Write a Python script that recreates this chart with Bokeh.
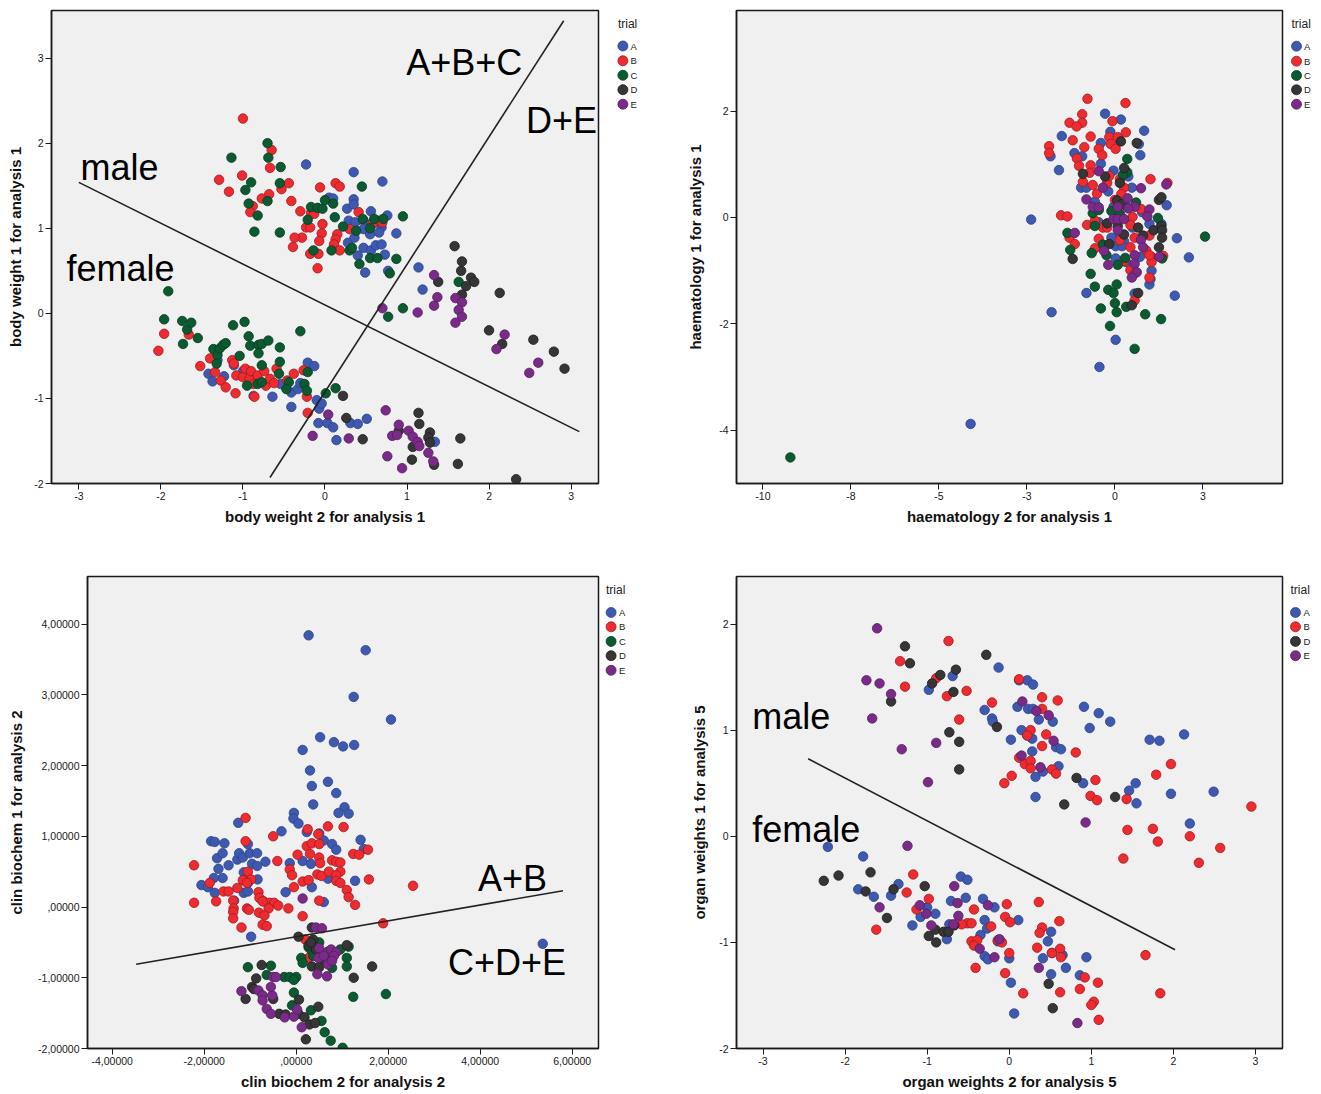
from bokeh.plotting import figure
from bokeh.models import FixedTicker, Range1d
from bokeh.layouts import row, column
from bokeh.embed import file_html
from bokeh.resources import INLINE
from bokeh.core.properties import value

FONT = "Liberation Sans"
TRIALS = ["A", "B", "C", "D", "E"]
FILL = {"A": "#3e59ad", "B": "#ee2b30", "C": "#0b5a31", "D": "#363636", "E": "#7a2b88"}
EDGE = {"A": "#2c4391", "B": "#a11c21", "C": "#063e20", "D": "#1d1d1d", "E": "#561d61"}

# ---------------- panel 1: body weight (analysis 1) ----------------
P1_A = [(-0.23,1.75),(0.35,1.66),(0.70,1.55),(0.05,1.36),(0.10,1.35),(0.35,1.34),(0.27,1.23),(0.35,1.28),(0.56,1.20),(0.76,1.15),(0.29,1.09),(0.37,1.07),(0.47,1.09),(0.56,1.05),(0.64,1.09),(0.69,1.01),(0.47,0.99),(0.55,0.93),(0.66,0.95),(0.87,0.94),(0.28,0.83),(0.36,0.89),(0.47,0.77),(0.56,0.74),(0.62,0.80),(0.69,0.81),(0.73,0.69),(0.40,0.68),(0.49,0.48),(0.77,0.50),(1.14,0.54),(1.19,0.28),(1.34,-1.51),(-1.42,-0.71),(-1.37,-0.80),(-1.31,-0.55),(-1.23,-0.74),(-1.11,-0.61),(-1.00,-0.68),(-0.87,-0.77),(-0.87,-0.97),(-0.64,-0.98),(-0.54,-0.83),(-0.41,-0.93),(-0.41,-1.10),(-0.33,-0.89),(-0.30,-0.82),(-0.21,-0.58),(-0.13,-0.62),(-0.10,-1.02),(-0.07,-1.12),(-0.04,-1.06),(-0.08,-1.29),(0.03,-1.29),(0.10,-1.34),(0.14,-1.49),(0.31,-1.29),(0.40,-1.30),(0.51,-1.24)]
P1_B = [(-1.00,2.29),(-0.65,1.92),(-0.67,1.71),(-1.29,1.57),(-1.01,1.62),(-1.17,1.43),(-0.68,1.40),(-0.77,1.35),(-0.53,1.46),(-0.44,1.53),(-0.41,1.32),(-0.88,1.26),(-0.91,1.19),(-0.30,1.20),(-0.17,1.18),(-0.13,1.17),(-0.06,1.48),(0.13,1.53),(0.18,1.49),(0.41,1.19),(-0.23,1.01),(-0.18,1.01),(-0.03,1.05),(-0.04,0.94),(-0.28,0.89),(-0.37,0.89),(-0.07,0.85),(0.15,0.93),(0.13,0.87),(0.11,0.81),(-0.39,0.78),(-0.18,0.70),(-0.08,0.70),(0.18,0.74),(-0.09,0.53),(0.30,0.99),(0.58,1.05),(0.70,1.07),(-2.03,-0.44),(-1.96,-0.24),(-1.66,-0.25),(-1.52,-0.62),(-1.40,-0.53),(-1.34,-0.69),(-1.27,-0.79),(-1.21,-0.87),(-1.13,-0.55),(-1.11,-0.59),(-1.09,-0.94),(-1.08,-0.73),(-1.00,-0.75),(-0.97,-0.65),(-0.92,-0.77),(-0.90,-0.68),(-0.87,-0.83),(-0.86,-0.98),(-0.82,-0.73),(-0.74,-0.68),(-0.72,-0.85),(-0.67,-0.77),(-0.62,-0.82),(-0.59,-0.65),(-0.46,-0.79),(-0.38,-0.71),(-0.26,-0.67),(-0.22,-0.98),(-0.21,-1.17)]
P1_C = [(-0.70,2.00),(-1.14,1.83),(-0.69,1.83),(-0.54,1.72),(-0.90,1.54),(-0.55,1.53),(-0.97,1.45),(-0.93,1.29),(-0.70,1.32),(-0.82,1.15),(-0.86,0.96),(-0.55,0.95),(-0.17,1.25),(-0.09,1.24),(-0.03,1.23),(0.00,1.33),(0.10,1.29),(-0.21,1.10),(0.12,1.13),(0.22,1.02),(0.38,0.97),(0.45,1.49),(0.46,1.11),(0.55,1.00),(0.60,1.11),(0.71,1.11),(0.95,1.14),(-0.14,0.74),(0.08,0.74),(0.30,0.74),(0.33,0.77),(0.42,0.58),(0.55,0.65),(0.64,0.65),(0.87,0.64),(0.79,0.47),(1.63,0.37),(0.95,0.06),(0.77,-0.04),(-1.91,0.26),(-1.96,-0.07),(-1.74,-0.09),(-1.68,-0.19),(-1.63,-0.11),(-1.73,-0.36),(-1.55,-0.29),(-1.36,-0.42),(-1.31,-0.49),(-1.28,-0.41),(-1.24,-0.37),(-1.21,-0.35),(-1.32,-0.59),(-1.12,-0.14),(-0.98,-0.10),(-0.93,-0.27),(-0.91,-0.38),(-0.81,-0.37),(-0.77,-0.36),(-0.81,-0.47),(-0.69,-0.32),(-0.55,-0.40),(-1.04,-0.50),(-0.77,-0.61),(-0.55,-0.57),(-0.56,-0.71),(-0.95,-0.85),(-0.82,-0.83),(-0.77,-0.81),(-0.44,-0.81),(-0.47,-0.89),(-0.30,-0.21),(-0.25,-0.83),(-0.21,-0.69),(-0.22,-0.91),(0.01,-0.94),(0.13,-0.88)]
P1_D = [(1.58,0.79),(1.67,0.61),(1.66,0.50),(1.38,0.37),(1.78,0.42),(1.82,0.37),(1.72,0.32),(1.67,0.22),(2.13,0.24),(2.00,-0.20),(2.16,-0.36),(2.54,-0.31),(2.79,-0.45),(2.92,-0.65),(0.22,-0.97),(0.26,-1.23),(0.46,-1.48),(1.14,-1.17),(1.15,-1.30),(1.07,-1.57),(1.28,-1.40),(1.26,-1.46),(1.28,-1.52),(1.65,-1.47),(1.06,-1.72),(1.33,-1.78),(1.62,-1.77),(2.33,-1.95),(0.90,-1.38)]
P1_E = [(1.33,0.45),(1.37,0.19),(1.33,0.09),(1.13,0.01),(0.70,0.06),(1.59,0.18),(1.67,0.13),(1.63,0.04),(1.67,-0.04),(1.59,-0.11),(2.19,-0.25),(2.09,-0.42),(2.60,-0.58),(2.49,-0.70),(0.04,-1.19),(-0.15,-1.44),(0.29,-1.47),(0.74,-1.14),(0.90,-1.31),(0.82,-1.44),(0.88,-1.43),(1.02,-1.38),(1.07,-1.45),(1.13,-1.51),(1.15,-1.56),(1.26,-1.64),(1.32,-1.74),(0.76,-1.68),(0.94,-1.82)]
P1_LINES_X = [[-3.0, 3.1], [-0.67, 2.91]]
P1_LINES_Y = [[1.54, -1.39], [-1.93, 3.44]]
P1_TEXT = ["A+B+C", "D+E", "male", "female"]
P1_TEXT_X = [0.99, 2.45, -2.98, -3.15]
P1_TEXT_Y = [2.95, 2.27, 1.71, 0.53]

# ---------------- panel 2: haematology (analysis 1) ----------------
P2_A = [(-4.10,-3.88),(-2.38,-0.04),(-1.80,-1.78),(-0.44,-2.81),(0.02,-2.30),(2.10,-0.75),(1.76,-0.39),(1.70,-1.47),(1.47,0.23),(-0.28,1.95),(0.17,1.84),(0.83,1.63),(-0.13,1.61),(0.14,1.45),(0.68,1.38),(0.72,1.17),(-1.51,1.53),(-1.15,1.21),(-1.83,1.15),(-0.93,1.15),(-0.40,1.40),(-0.40,1.01),(-1.59,0.89),(-0.04,0.88),(0.38,0.77),(-0.96,0.56),(-0.81,0.56),(-0.19,0.49),(0.48,0.56),(-0.57,0.30),(-0.04,0.20),(0.32,0.22),(0.77,0.10),(0.98,-0.12),(1.32,-0.12),(-0.46,-0.09),(0.14,-0.32),(-0.10,-0.38),(0.26,-0.45),(0.50,-0.19),(0.02,-0.54),(0.20,-0.54),(0.02,-0.77),(0.32,-0.84),(0.71,-0.74),(1.04,-1.00),(0.98,-1.26),(-0.81,-1.42),(0.56,-1.43),(1.01,-1.16)]
P2_B = [(-0.78,2.23),(0.30,2.15),(-0.93,1.94),(-1.29,1.78),(-0.93,1.78),(-1.09,1.71),(-0.07,1.81),(0.31,1.60),(-1.20,1.45),(-0.69,1.52),(-0.16,1.51),(0.08,1.51),(-0.12,1.38),(0.02,1.29),(-1.87,1.34),(-1.87,1.21),(-0.87,1.32),(-0.46,1.29),(-0.36,1.17),(-1.08,1.11),(-1.02,0.97),(-0.69,0.98),(-0.72,0.84),(-0.91,0.67),(-0.63,0.61),(-0.51,0.45),(-0.22,0.65),(-0.16,0.78),(0.14,0.72),(0.26,0.56),(0.18,0.44),(0.00,0.33),(1.01,0.72),(1.49,0.65),(0.74,0.16),(-1.53,0.04),(-1.35,0.02),(-0.79,-0.14),(-0.57,-0.06),(-0.34,-0.19),(-0.22,-0.19),(0.50,0.01),(0.44,-0.14),(-1.29,-0.38),(-1.14,-0.50),(-0.46,-0.40),(-0.57,-0.58),(0.14,-0.43),(0.44,-0.56),(0.56,-0.38),(0.89,-0.62),(1.04,-0.74),(1.04,-0.84),(1.37,-0.72),(0.98,-0.34),(0.44,-0.99),(0.56,-1.05),(0.98,-1.13),(0.56,-1.56),(0.26,-0.82),(0.98,-0.71)]
P2_C = [(-9.22,-4.51),(0.56,-2.47),(2.56,-0.36),(0.35,1.10),(0.35,0.85),(0.23,0.80),(0.60,0.28),(1.22,-0.01),(-0.63,0.08),(-0.46,0.14),(-0.10,0.12),(0.14,0.07),(-0.57,-0.16),(-1.35,-0.29),(-1.27,-0.61),(-0.66,-0.67),(-0.34,-0.51),(-0.24,-0.71),(0.08,-0.89),(0.29,-0.76),(1.34,-0.77),(-0.69,-1.06),(-0.57,-1.30),(0.05,-1.26),(-0.19,-1.36),(-0.04,-1.42),(0.00,-1.61),(-0.40,-1.71),(0.05,-1.78),(0.32,-1.68),(0.86,-1.82),(1.31,-1.91),(-0.14,-2.04)]
P2_D = [(0.17,1.43),(0.62,1.40),(-0.91,0.82),(-0.28,0.77),(0.26,0.93),(0.14,0.65),(1.25,0.33),(1.32,0.38),(0.06,0.32),(0.20,0.25),(-0.22,-0.11),(0.08,-0.16),(0.66,-0.19),(1.10,-0.24),(1.32,-0.16),(1.34,-0.24),(1.34,-0.38),(1.25,-0.56),(0.26,-0.32),(-0.16,-0.50),(-1.20,-0.78),(0.80,-0.34),(0.66,-1.42),(0.48,-1.65)]
P2_E = [(-0.46,0.87),(-0.34,0.56),(0.74,0.55),(-0.81,0.34),(-0.63,0.20),(-0.46,0.19),(0.36,0.36),(0.56,0.20),(0.38,0.17),(0.08,0.20),(0.98,0.15),(-0.04,-0.03),(0.08,-0.03),(0.26,-0.03),(0.92,0.02),(-1.14,-0.29),(-0.31,-0.63),(-0.19,-0.89),(0.08,-0.24),(0.74,-0.42),(0.80,-0.56),(0.56,-0.71),(0.56,-0.87),(0.62,-1.03),(0.48,-1.13),(1.26,-0.74),(1.46,0.62)]

# ---------------- panel 3: clin biochem (analysis 2) ----------------
P3_A = [(0.27,3.84),(1.51,3.63),(1.25,2.97),(2.06,2.65),(0.52,2.40),(0.82,2.33),(1.02,2.27),(1.26,2.29),(0.14,2.22),(0.30,1.93),(0.34,1.71),(0.69,1.77),(0.87,1.61),(0.37,1.45),(1.05,1.41),(1.14,1.32),(0.92,1.33),(-0.05,1.33),(-0.06,1.25),(0.05,1.18),(-1.26,1.19),(-0.32,1.07),(0.23,1.06),(0.50,1.04),(0.60,0.94),(0.78,0.89),(0.87,0.81),(1.40,0.95),(1.47,0.82),(-1.85,0.93),(-1.77,0.92),(-1.56,0.90),(-1.72,0.69),(-1.60,0.76),(-1.69,0.54),(-1.47,0.59),(-1.28,0.67),(-1.24,0.76),(-1.16,0.70),(-1.05,0.89),(-1.01,0.76),(-0.85,0.76),(-0.96,0.61),(-0.85,0.58),(-0.67,0.64),(-0.14,0.62),(0.14,0.65),(0.32,0.61),(-1.14,0.49),(-1.10,0.39),(-1.05,0.34),(-0.84,0.39),(-1.60,0.41),(-1.79,0.41),(-2.06,0.31),(-1.92,0.28),(-1.77,0.20),(-1.14,0.20),(-1.05,0.22),(-0.23,0.21),(0.34,0.28),(0.60,0.07),(0.69,0.40),(1.28,0.37),(-0.98,-0.42),(-1.35,0.09),(5.36,-0.52)]
P3_B = [(-1.10,1.26),(-0.50,1.00),(0.25,1.10),(0.48,1.03),(0.69,1.14),(1.03,1.13),(-1.10,0.93),(0.23,0.86),(0.34,0.90),(0.50,0.89),(0.30,0.75),(0.50,0.70),(0.52,0.62),(0.03,0.74),(0.78,0.66),(0.87,0.64),(0.96,0.63),(1.24,0.75),(1.37,0.74),(1.56,0.81),(-0.41,0.65),(-2.22,0.59),(-1.88,0.34),(-1.05,0.50),(-0.98,0.39),(-1.16,0.38),(-1.07,0.34),(-1.28,0.27),(-0.14,0.53),(-0.09,0.45),(0.46,0.46),(0.55,0.44),(0.71,0.50),(0.96,0.50),(0.87,0.45),(0.87,0.37),(0.96,0.34),(0.14,0.36),(0.27,0.38),(1.58,0.39),(-0.05,0.28),(-1.58,0.22),(-1.47,0.22),(-0.82,0.21),(-0.80,0.13),(-0.71,0.08),(-0.58,0.06),(-0.48,0.06),(-0.39,0.02),(-0.60,-0.02),(-0.73,0.08),(-1.37,0.09),(-1.74,0.08),(-2.22,0.06),(-1.36,-0.02),(-1.37,-0.07),(-1.37,-0.16),(-1.07,-0.02),(-1.03,-0.04),(-0.81,-0.08),(-0.69,-0.12),(-0.17,-0.02),(0.14,-0.13),(0.50,0.09),(1.10,0.24),(1.14,0.14),(1.28,0.03),(-1.19,-0.29),(-0.73,-0.25),(-0.64,-0.27),(2.54,0.30),(1.89,-0.23),(0.20,-0.46),(0.27,-0.72)]
P3_C = [(-1.05,-0.85),(-0.55,-0.83),(-0.64,-0.96),(-0.26,-0.99),(-0.14,-0.99),(0.00,-0.99),(-0.05,-1.03),(-0.05,-1.21),(-0.09,-1.39),(0.32,-1.46),(0.55,-1.61),(0.62,-1.77),(0.75,-1.89),(1.01,-1.99),(1.24,-1.27),(1.95,-1.23),(0.11,-0.72),(0.14,-0.79),(0.27,-0.57),(0.32,-0.60),(0.78,-0.86),(0.96,-0.60),(1.10,-0.72),(1.10,-0.84),(1.14,-0.56),(0.50,-0.50),(0.37,-0.69),(0.69,-0.73),(0.05,-1.51)]
P3_D = [(0.34,-0.29),(0.05,-0.42),(0.37,-0.46),(0.27,-0.54),(0.43,-0.60),(1.10,-0.54),(1.65,-0.84),(1.25,-1.00),(0.34,-0.84),(0.50,-0.85),(-0.75,-0.82),(-0.87,-1.01),(-0.96,-1.13),(-0.92,-1.16),(-1.10,-1.30),(-0.50,-1.30),(0.06,-1.31),(-0.37,-1.51),(-0.23,-1.52),(0.18,-1.56),(0.29,-1.66),(0.41,-1.64),(0.48,-1.41),(0.21,-1.87),(0.32,-0.50),(0.60,-0.74)]
P3_E = [(0.14,0.12),(0.43,-0.29),(0.56,-0.30),(0.50,-0.58),(0.48,-0.72),(0.69,-0.63),(0.76,-0.60),(0.87,-0.64),(0.82,-0.69),(0.60,-0.69),(0.69,-0.81),(0.78,-0.76),(0.46,-0.95),(0.67,-0.98),(-0.50,-0.99),(-0.44,-0.99),(-1.19,-1.19),(-0.82,-1.18),(-0.73,-1.25),(-0.52,-1.25),(-0.55,-1.13),(-0.73,-1.32),(-0.64,-1.44),(-0.55,-1.51),(-0.25,-1.56),(-0.05,-1.55),(0.12,-1.70),(0.02,-1.45)]
P3_LINES_X = [[-3.48, 5.80]]
P3_LINES_Y = [[-0.81, 0.23]]
P3_TEXT = ["A+B", "C+D+E"]
P3_TEXT_X = [3.95, 3.30]
P3_TEXT_Y = [0.41, -0.78]

# ---------------- panel 4: organ weights (analysis 5) ----------------
P4_A = [(-0.13,1.59),(-0.69,1.51),(-0.98,1.38),(0.12,1.47),(0.22,1.47),(0.29,1.43),(-0.30,1.19),(-0.21,1.11),(-0.20,1.08),(0.10,1.22),(0.23,1.20),(0.29,1.20),(0.36,1.10),(0.53,1.08),(0.15,1.00),(0.22,0.95),(0.28,0.92),(0.02,0.91),(0.28,0.80),(0.57,0.84),(0.63,0.82),(0.60,0.66),(0.32,0.56),(0.32,0.37),(0.41,0.61),(0.90,0.50),(0.91,1.22),(1.09,1.16),(1.23,1.08),(0.98,1.02),(1.71,0.91),(1.83,0.90),(2.13,0.96),(1.46,0.43),(1.54,0.50),(1.55,0.31),(1.97,0.40),(2.49,0.42),(2.20,0.12),(-2.21,-0.10),(-1.78,-0.19),(-1.84,-0.50),(-1.65,-0.57),(-1.44,-0.56),(-1.35,-0.45),(-1.18,-0.84),(-1.08,-0.76),(-1.00,-0.67),(-0.90,-0.73),(-0.71,-0.61),(-0.59,-0.38),(-0.51,-0.41),(-0.53,-0.58),(-0.73,-0.83),(-0.76,-0.97),(-0.32,-0.59),(-0.18,-0.67),(-0.30,-0.79),(-0.35,-0.93),(-0.27,-0.87),(0.11,-0.79),(-0.14,-0.99),(-0.30,-1.13),(-0.26,-1.16),(0.00,-1.15),(0.02,-1.38),(0.06,-1.67),(0.51,-0.90),(0.47,-0.99),(0.41,-1.15),(0.52,-1.10),(0.65,-1.12),(0.69,-1.24),(0.51,-1.30),(0.94,-1.14),(0.86,-1.31)]
P4_B = [(-0.74,1.84),(-1.33,1.65),(-0.89,1.49),(-1.27,1.41),(-0.52,1.37),(-0.76,1.32),(-0.61,1.10),(-0.21,1.26),(0.12,1.48),(0.40,1.31),(0.59,1.28),(0.40,1.20),(0.26,1.00),(0.22,0.95),(0.45,0.96),(0.40,0.85),(0.81,0.79),(0.12,0.74),(0.19,0.68),(0.26,0.71),(0.26,0.64),(0.52,0.63),(0.57,0.59),(0.03,0.57),(-0.06,0.50),(1.97,0.68),(1.79,0.58),(1.05,0.53),(0.99,0.38),(1.07,0.34),(1.43,0.35),(2.95,0.28),(1.44,0.06),(1.75,0.07),(1.81,-0.05),(2.20,0.00),(1.39,-0.21),(2.31,-0.25),(2.57,-0.11),(-1.17,-0.36),(-1.25,-0.53),(-0.98,-0.59),(-1.13,-0.69),(-1.62,-0.88),(-0.43,-0.69),(-0.51,-0.82),(-0.58,-0.83),(-0.46,-0.82),(-0.46,-0.99),(-0.39,-0.98),(-0.43,-1.03),(-0.22,-0.85),(-0.14,-0.98),(-0.09,-1.00),(-0.03,-0.64),(-0.05,-0.76),(0.01,-0.81),(0.00,-1.10),(-0.05,-1.29),(-0.41,-1.24),(0.36,-0.62),(0.40,-0.86),(0.37,-0.91),(0.34,-1.05),(0.52,-1.10),(0.62,-1.06),(0.63,-1.14),(0.61,-0.80),(0.92,-1.33),(0.86,-1.44),(1.08,-1.38),(0.62,-1.47),(1.03,-1.56),(1.00,-1.59),(1.09,-1.73),(0.17,-1.48),(1.66,-1.12),(1.84,-1.48)]
P4_D = [(-1.27,1.79),(-1.21,1.63),(-0.28,1.71),(-0.94,1.44),(-0.84,1.52),(-0.65,1.57),(-0.68,1.36),(-1.44,1.27),(-0.73,0.98),(-0.61,0.89),(-0.15,1.03),(-0.61,0.63),(0.82,0.55),(0.67,0.30),(1.29,0.37),(-2.26,-0.42),(-2.08,-0.37),(-1.69,-0.34),(-1.75,-0.52),(-1.41,-0.50),(-1.03,-0.47),(-1.49,-0.77),(-0.98,-0.94),(-0.89,-1.00),(-0.90,-0.88),(-0.80,-0.90),(-0.74,-0.90),(-0.67,-0.84),(0.48,-1.39),(0.53,-1.62)]
P4_E = [(-1.61,1.96),(-1.74,1.47),(-1.58,1.44),(-1.44,1.34),(-1.67,1.11),(-1.31,0.82),(-0.89,0.88),(-0.99,0.51),(0.16,1.27),(0.33,1.18),(0.48,1.14),(0.54,0.90),(0.15,0.76),(0.38,0.65),(0.93,0.13),(-1.24,-0.09),(-1.58,-0.67),(-1.09,-0.65),(-1.01,-0.73),(-0.95,-0.84),(-0.67,-0.47),(-0.63,-0.63),(-0.62,-0.75),(-0.68,-0.83),(-0.26,-0.65),(-0.36,-1.06),(-0.18,-1.14),(-0.12,-0.97),(0.36,-1.24),(0.83,-1.76)]
P4_LINES_X = [[-2.45, 2.02]]
P4_LINES_Y = [[0.73, -1.07]]
P4_TEXT = ["male", "female"]
P4_TEXT_X = [-3.13, -3.13]
P4_TEXT_Y = [1.13, 0.06]

# tick values and their printed labels
P1_XTICKS = [-3, -2, -1, 0, 1, 2, 3]
P1_XLABELS = ["-3", "-2", "-1", "0", "1", "2", "3"]
P1_YTICKS = [-2, -1, 0, 1, 2, 3]
P1_YLABELS = ["-2", "-1", "0", "1", "2", "3"]
P2_XTICKS = [-10, -7.5, -5, -2.5, 0, 2.5]
P2_XLABELS = ["-10", "-8", "-5", "-3", "0", "3"]
P2_YTICKS = [-4, -2, 0, 2]
P2_YLABELS = ["-4", "-2", "0", "2"]
P3_XTICKS = [-4, -2, 0, 2, 4, 6]
P3_XLABELS = ["-4,00000", "-2,00000", ",00000", "2,00000", "4,00000", "6,00000"]
P3_YTICKS = [-2, -1, 0, 1, 2, 3, 4]
P3_YLABELS = ["-2,00000", "-1,00000", ",00000", "1,00000", "2,00000", "3,00000", "4,00000"]
P4_XTICKS = [-3, -2, -1, 0, 1, 2, 3]
P4_XLABELS = ["-3", "-2", "-1", "0", "1", "2", "3"]
P4_YTICKS = [-2, -1, 0, 1, 2]
P4_YLABELS = ["-2", "-1", "0", "1", "2"]


def make_panel(groups, xr, yr, xt, xl, yt, yl, xtitle, ytitle, lines_x, lines_y,
               texts, tx, ty, fw, fh, bl, br, bt, bb, ylab_so, xlab_so):
    p = figure(width=bl + fw + br, height=bt + fh + bb, sizing_mode="fixed",
               min_border_left=bl, min_border_right=br,
               min_border_top=bt, min_border_bottom=bb,
               x_range=Range1d(*xr), y_range=Range1d(*yr),
               output_backend="svg", toolbar_location=None)
    p.background_fill_color = "#f0f0f0"
    p.border_fill_color = "white"
    p.outline_line_color = "#1a1a1a"
    p.outline_line_width = 1.5
    p.grid.visible = False
    for ax, ticks, labels, title, so in ((p.xaxis[0], xt, xl, xtitle, xlab_so),
                                         (p.yaxis[0], yt, yl, ytitle, ylab_so)):
        ax.ticker = FixedTicker(ticks=ticks)
        ax.major_label_overrides = {t: s for t, s in zip(ticks, labels)}
        ax.axis_label = title
        ax.axis_label_standoff = int(so)
        ax.axis_label_text_font = FONT
        ax.axis_label_text_font_style = "bold"
        ax.axis_label_text_font_size = "15px"
        ax.axis_label_text_color = "#111111"
        ax.major_label_text_font = FONT
        ax.major_label_text_font_size = "10.5px"
        ax.major_label_text_color = "#1a1a1a"
        ax.major_label_standoff = 2
        ax.major_tick_in = 0
        ax.major_tick_out = 6
        ax.major_tick_line_color = "#1a1a1a"
        ax.minor_tick_line_color = None
        ax.axis_line_color = "#1a1a1a"
        ax.axis_line_width = 1.5

    for name, pts in groups:
        xs = [a for a, b in pts]
        ys = [b for a, b in pts]
        p.ellipse(x=xs, y=ys, width=9.5, height=9.5, width_units="screen", height_units="screen",
                  fill_color=FILL[name], line_color=EDGE[name], line_width=0.8)

    for lx, ly in zip(lines_x, lines_y):
        p.line(lx, ly, line_color="#222222", line_width=1.6)

    if texts:
        p.text(x=tx, y=ty, text=texts, text_font=value(FONT), text_font_size="36px",
               text_baseline="alphabetic", text_align="left", text_color="#000000")
    return p


def make_legend(w, bt, fh, bb, names, title_x, title_y, dot_x, dot_ys, label_x):
    """Legend strip beside a panel. Its frame is aligned with the panel's frame by the row layout,
    so the y range is given in the strip's own pixel coordinates (y downwards from its top)."""
    lf = figure(width=w, height=bt + fh + bb, sizing_mode="fixed",
                x_range=Range1d(0, w), y_range=Range1d(bt + fh, bt),
                min_border_left=0, min_border_right=0, min_border_top=bt, min_border_bottom=bb,
                x_axis_location=None, y_axis_location=None,
                output_backend="svg", toolbar_location=None)
    lf.outline_line_color = None
    lf.background_fill_color = "white"
    lf.border_fill_color = "white"
    lf.grid.visible = False
    n = len(names)
    lf.text(x=[title_x], y=[title_y], text=["trial"], text_font=value(FONT),
            text_font_size="12px", text_baseline="middle", text_align="left", text_color="#222222")
    lf.ellipse(x=[dot_x] * n, y=dot_ys[:n], width=10, height=10,
               width_units="screen", height_units="screen",
               fill_color=[FILL[k] for k in names], line_color=[EDGE[k] for k in names], line_width=0.8)
    lf.text(x=[label_x] * n, y=dot_ys[:n], text=names, text_font=value(FONT),
            text_font_size="9.5px", text_baseline="middle", text_align="left", text_color="#222222")
    return lf


p1 = make_panel([(k, v) for k, v in zip(TRIALS, [P1_A, P1_B, P1_C, P1_D, P1_E])],
                (-3.333, 3.334), (-2.0, 3.56), P1_XTICKS, P1_XLABELS, P1_YTICKS, P1_YLABELS,
                "body weight 2 for analysis 1", "body weight 1 for analysis 1",
                P1_LINES_X, P1_LINES_Y, P1_TEXT, P1_TEXT_X, P1_TEXT_Y,
                547, 473, 51, 2, 10, 76, 7, 5)
l1 = make_legend(60, 10, 473, 76, TRIALS, 17.4, 23.1, 22.4, [45.5, 60.3, 74.8, 89.2, 103.7], 30.0)
p2 = make_panel([(k, v) for k, v in zip(TRIALS, [P2_A, P2_B, P2_C, P2_D, P2_E])],
                (-10.75, 4.76), (-5.0, 3.89), P2_XTICKS, P2_XLABELS, P2_YTICKS, P2_YLABELS,
                "haematology 2 for analysis 1", "haematology 1 for analysis 1",
                [], [], [], [], [],
                546, 473, 76, 2, 10, 76, 12, 5)
l2 = make_legend(36, 10, 473, 76, TRIALS, 7.0, 23.3, 12.0, [45.7, 60.7, 75.0, 89.3, 103.7], 19.5)
p3 = make_panel([(k, v) for k, v in zip(TRIALS, [P3_A, P3_B, P3_C, P3_D, P3_E])],
                (-4.537, 6.572), (-2.0, 4.672), P3_XTICKS, P3_XLABELS, P3_YTICKS, P3_YLABELS,
                "clin biochem 2 for analysis 2", "clin biochem 1 for analysis 2",
                P3_LINES_X, P3_LINES_Y, P3_TEXT, P3_TEXT_X, P3_TEXT_Y,
                511, 472, 87, 2, 17, 45, 10, 5)
l3 = make_legend(60, 17, 472, 45, TRIALS, 5.5, 30.0, 10.6, [53.0, 67.3, 81.9, 96.2, 110.8], 18.5)
p4 = make_panel([(k, v) for k, v in zip(["A", "B", "D", "E"], [P4_A, P4_B, P4_D, P4_E])],
                (-3.323, 3.329), (-2.0, 2.448), P4_XTICKS, P4_XLABELS, P4_YTICKS, P4_YLABELS,
                "organ weights 2 for analysis 5", "organ weights 1 for analysis 5",
                P4_LINES_X, P4_LINES_Y, P4_TEXT, P4_TEXT_X, P4_TEXT_Y,
                546, 472, 76, 2, 17, 45, 8, 5)
l4 = make_legend(36, 17, 472, 45, ["A", "B", "D", "E"], 6.0, 30.0, 11.0, [53.0, 67.3, 81.9, 96.2], 19.0)

layout = column(row(p1, l1, p2, l2), row(p3, l3, p4, l4))
open("out.html", "w").write(file_html(layout, INLINE))
